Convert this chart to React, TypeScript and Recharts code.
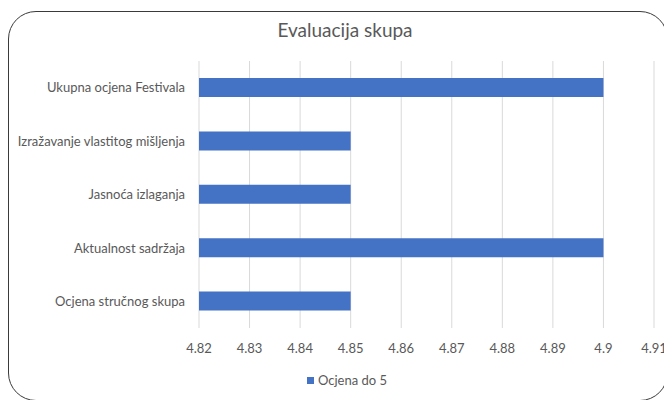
import React from "react";
import { BarChart, Bar, XAxis, YAxis, CartesianGrid, Legend } from "recharts";

const categories = [
  "Ukupna ocjena Festivala",
  "Izražavanje vlastitog mišljenja",
  "Jasnoća izlaganja",
  "Aktualnost sadržaja",
  "Ocjena stručnog skupa",
];
const scores = [4.9, 4.85, 4.85, 4.9, 4.85];
const xTicks = [4.82, 4.83, 4.84, 4.85, 4.86, 4.87, 4.88, 4.89, 4.9, 4.91];
const seriesName = "Ocjena do 5";
const title = "Evaluacija skupa";

const data = categories.map((name, i) => ({ name, value: scores[i] }));

const FONT = "Lato, 'Open Sans', sans-serif";
const TEXT = "#595959";
const BLUE = "#4472C4";

const LegendContent = () => (
  <div
    style={{
      display: "flex",
      alignItems: "center",
      justifyContent: "center",
      fontFamily: FONT,
      fontSize: 13,
      color: TEXT,
      height: 16,
    }}
  >
    <span style={{ width: 7, height: 7, background: BLUE, display: "inline-block", marginRight: 4 }} />
    <span>{seriesName}</span>
  </div>
);

export default function App() {
  return (
    <div
      style={{
        position: "absolute",
        left: 0,
        top: 0,
        width: 664,
        height: 400,
        overflow: "hidden",
        background: "#fff",
      }}
    >
      <div
        style={{
          position: "absolute",
          left: 8,
          top: 11,
          width: 660,
          height: 390,
          border: "1px solid #3a3a3a",
          borderRadius: 28,
          boxSizing: "border-box",
        }}
      />
      <div
        style={{
          position: "absolute",
          left: 8,
          width: 674,
          top: 18,
          textAlign: "center",
          fontFamily: FONT,
          fontSize: 19,
          color: TEXT,
        }}
      >
        {title}
      </div>
      <div style={{ position: "absolute", left: 0, top: 0 }}>
        <BarChart
          width={664}
          height={400}
          data={data}
          layout="vertical"
          margin={{ top: 61, right: 10, bottom: 26, left: 0 }}
          barSize={19}
        >
          <CartesianGrid horizontal={false} stroke="#d9d9d9" />
          <XAxis
            type="number"
            domain={[4.82, 4.91]}
            ticks={xTicks}
            allowDataOverflow
            axisLine={false}
            tickLine={false}
            tickMargin={10}
            height={30}
            tick={{ fill: TEXT, fontSize: 13, fontFamily: FONT }}
            tickFormatter={(v: number) => String(Number(v.toFixed(2)))}
            interval={0}
          />
          <YAxis
            type="category"
            dataKey="name"
            width={199}
            axisLine={false}
            tickLine={false}
            tickSize={0}
            tickMargin={14}
            tick={{ fill: TEXT, fontSize: 13, fontFamily: FONT }}
            interval={0}
          />
          <Legend
            content={<LegendContent />}
            wrapperStyle={{ position: "absolute", top: 372, left: 270, width: 154, height: 16 }}
          />
          <Bar dataKey="value" name={seriesName} fill={BLUE} isAnimationActive={false} />
        </BarChart>
      </div>
    </div>
  );
}
